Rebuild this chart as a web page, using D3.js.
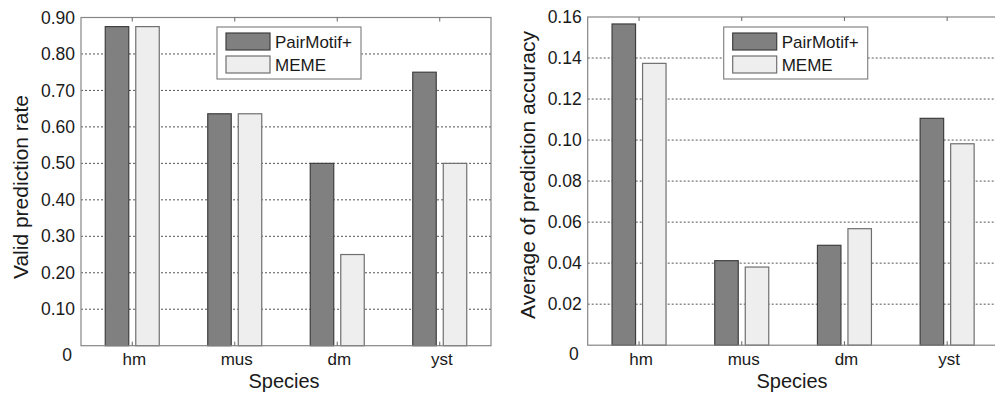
<!DOCTYPE html>
<html>
<head>
<meta charset="utf-8">
<script src="https://cdn.jsdelivr.net/npm/d3@7"></script>
<style>
  body { margin: 0; background: #fff; }
  svg { display: block; font-family: "Liberation Sans", Arial, sans-serif; }
</style>
</head>
<body>
<div id="chart"></div>
<script>
// data
var species = ["hm", "mus", "dm", "yst"];
var seriesNames = ["PairMotif+", "MEME"];
var validRatePair = [0.875, 0.636, 0.5, 0.75];
var validRateMeme = [0.875, 0.636, 0.25, 0.5];
var accuracyPair = [0.1566, 0.0412, 0.0487, 0.1106];
var accuracyMeme = [0.1374, 0.0381, 0.0568, 0.0982];
var validTicks = [0, 0.1, 0.2, 0.3, 0.4, 0.5, 0.6, 0.7, 0.8, 0.9];
var accuracyTicks = [0, 0.02, 0.04, 0.06, 0.08, 0.1, 0.12, 0.14, 0.16];

var colors = { "PairMotif+": "#808080", "MEME": "#eeeeee" };
var strokes = { "PairMotif+": "#3f3f3f", "MEME": "#6f6f6f" };

var svg = d3.select("#chart").append("svg").attr("width", 995).attr("height", 396);

function drawChart(opt) {
    var g = svg.append("g");
    var x = d3.scaleBand().domain(species).range([opt.left, opt.right]).padding(0);
    var y = d3.scaleLinear().domain([0, opt.max]).range([opt.bottom, opt.top]);
    var inner = d3.scaleBand().domain(seriesNames).range([-27, 27]).paddingInner(0.23);

    // dotted grid
    g.selectAll(".grid").data(opt.ticks.filter(function (t) { return t > 0 && t < opt.max; }))
        .enter().append("line")
        .attr("x1", opt.left).attr("x2", opt.right)
        .attr("y1", function (d) { return y(d); }).attr("y2", function (d) { return y(d); })
        .attr("stroke", "#555").attr("stroke-width", 1).attr("stroke-dasharray", "2,2");

    // bars
    var rows = [];
    species.forEach(function (s, i) {
        rows.push({ cat: s, name: "PairMotif+", value: opt.pair[i] });
        rows.push({ cat: s, name: "MEME", value: opt.meme[i] });
    });
    g.selectAll(".bar").data(rows).enter().append("rect")
        .attr("x", function (d) { return x(d.cat) + x.bandwidth() / 2 + inner(d.name); })
        .attr("y", function (d) { return y(d.value); })
        .attr("width", inner.bandwidth())
        .attr("height", function (d) { return opt.bottom - y(d.value); })
        .attr("fill", function (d) { return colors[d.name]; })
        .attr("stroke", function (d) { return strokes[d.name]; })
        .attr("stroke-width", 1.2);

    // axes box
    g.append("rect").attr("x", opt.left).attr("y", opt.top)
        .attr("width", opt.right - opt.left).attr("height", opt.bottom - opt.top)
        .attr("fill", "none").attr("stroke", "#858585").attr("stroke-width", 1.2);

    // category ticks top and bottom
    species.forEach(function (s) {
        var cx = x(s) + x.bandwidth() / 2;
        g.append("line").attr("x1", cx).attr("x2", cx).attr("y1", opt.top).attr("y2", opt.top + 4)
            .attr("stroke", "#666");
        g.append("line").attr("x1", cx).attr("x2", cx).attr("y1", opt.bottom).attr("y2", opt.bottom - 4)
            .attr("stroke", "#666");
    });

    // y tick labels
    g.selectAll(".ylab").data(opt.ticks).enter().append("text")
        .attr("x", function (d) { return d === 0 ? opt.left - 9 : opt.left - 6; })
        .attr("y", function (d) { return y(d) + (d === 0 ? 9 : 0); })
        .attr("dy", "0.35em")
        .attr("text-anchor", "end")
        .attr("font-size", 17.5)
        .attr("fill", "#1a1a1a")
        .text(function (d) { return d === 0 ? "0" : d3.format(opt.fmt)(d); });

    // x tick labels
    g.selectAll(".xlab").data(species).enter().append("text")
        .attr("x", function (d) { return x(d) + x.bandwidth() / 2 + 2; })
        .attr("y", 365)
        .attr("text-anchor", "middle")
        .attr("font-size", 17)
        .attr("fill", "#1a1a1a")
        .text(function (d) { return d; });

    g.append("text").attr("x", opt.xTitleX).attr("y", 388)
        .attr("text-anchor", "middle").attr("font-size", 20).attr("fill", "#1a1a1a")
        .text("Species");

    g.append("text")
        .attr("transform", "translate(" + opt.yTitleX + "," + opt.yTitleY + ") rotate(-90)")
        .attr("text-anchor", "middle").attr("font-size", 21).attr("fill", "#1a1a1a")
        .text(opt.yTitle);

    // legend
    var lx = opt.left + 136, ly = 27;
    var legend = g.append("g").attr("transform", "translate(" + lx + "," + ly + ")");
    legend.append("rect").attr("width", 144).attr("height", 52)
        .attr("fill", "#fff").attr("stroke", "#858585").attr("stroke-width", 1.2);
    var item = legend.selectAll(".item").data(seriesNames).enter().append("g")
        .attr("transform", function (d, i) { return "translate(9," + (6 + i * 23) + ")"; });
    item.append("rect").attr("width", 44).attr("height", 17)
        .attr("fill", function (d) { return colors[d]; })
        .attr("stroke", function (d) { return strokes[d]; }).attr("stroke-width", 1.2);
    item.append("text").attr("x", 49).attr("y", 15)
        .attr("font-size", 17).attr("fill", "#1a1a1a")
        .text(function (d) { return d; });
}

drawChart({
    left: 81, right: 491, top: 17.5, bottom: 345.7, max: 0.9,
    ticks: validTicks, fmt: ".2f", pair: validRatePair, meme: validRateMeme,
    yTitle: "Valid prediction rate", yTitleX: 28, yTitleY: 187, xTitleX: 284
});

drawChart({
    left: 587.7, right: 998.5, top: 17, bottom: 345.2, max: 0.16,
    ticks: accuracyTicks, fmt: ".2f", pair: accuracyPair, meme: accuracyMeme,
    yTitle: "Average of prediction accuracy", yTitleX: 535, yTitleY: 175, xTitleX: 792
});
</script>
</body>
</html>
